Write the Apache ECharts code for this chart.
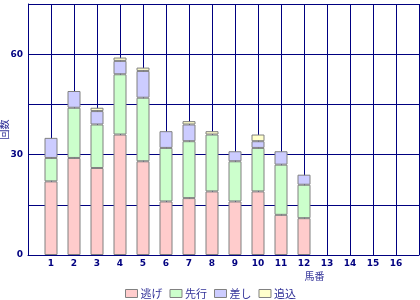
<!DOCTYPE html>
<html><head><meta charset="utf-8">
<script src="https://cdn.jsdelivr.net/npm/echarts@6/dist/echarts.min.js"></script>
<style>html,body{margin:0;padding:0;background:#fff}#c{width:420px;height:300px}</style>
</head><body><div id="c"></div>
<script>
const horses = ['1','2','3','4','5','6','7','8','9','10','11','12','13','14','15','16'];
const nige   = [22,29,26,36,28,16,17,19,16,19,12,11,0,0,0,0];
const senko  = [7,15,13,18,19,16,17,17,12,13,15,10,0,0,0,0];
const sashi  = [6,5,4,4,8,5,5,0,3,2,4,3,0,0,0,0];
const oikomi = [0,0,1,1,1,0,1,1,0,2,0,0,0,0,0,0];
const seriesNames = ['逃げ','先行','差し','追込'];
const yTickLabels = [0,30,60];

const cats = [''].concat(horses, ['']);
const pad = a => ['-'].concat(a.map(v => v === 0 ? '-' : v), ['-']);
const colors = ['#ffcccc','#ccffcc','#ccccff','#ffffcc'];
const navy = '#000080';
const chart = echarts.init(document.getElementById('c'), null, {renderer:'canvas'});
chart.setOption({
  animation:false,
  textStyle:{fontFamily:'DejaVu Sans'},
  grid:{left:28,right:1,top:4,bottom:45,containLabel:false,outerBoundsMode:'none'},
  legend:{
    left:125, top:288, padding:0, itemWidth:12, itemHeight:8, itemGap:7,
    textStyle:{color:'#333399',fontSize:11,fontFamily:'Noto Sans CJK JP',padding:[0,0,0,-2]},
    data:seriesNames.map((n,i)=>({name:n,icon:'rect',itemStyle:{color:colors[i],borderColor:'#808080',borderWidth:1}}))
  },
  xAxis:{
    type:'category', data:cats, boundaryGap:false,
    name:'馬番', nameLocation:'middle', nameGap:16, nameMoveOverlap:false,
    nameTextStyle:{color:'#333399',fontSize:10,fontFamily:'Noto Sans CJK JP',padding:[0,0,0,182]},
    axisLine:{lineStyle:{color:navy,width:1}},
    axisTick:{show:false},
    axisLabel:{interval:0,color:navy,fontSize:9,fontWeight:'bold',margin:4},
    splitLine:{show:true,interval:0,lineStyle:{color:navy,width:1}}
  },
  yAxis:{
    type:'value', min:0, max:75, interval:15,
    name:'回数', nameLocation:'middle', nameRotate:90, nameGap:19, nameMoveOverlap:false,
    nameTextStyle:{color:'#333399',fontSize:10,fontFamily:'Noto Sans CJK JP'},
    axisLine:{show:true,lineStyle:{color:navy,width:1}},
    axisTick:{show:false},
    axisLabel:{color:navy,fontSize:9,fontWeight:'bold',margin:5,
      formatter:v=>yTickLabels.indexOf(v)>=0?String(v):''},
    splitLine:{show:true,lineStyle:{color:navy,width:1}}
  },
  series:[nige,senko,sashi,oikomi].map((d,i)=>({
    name:seriesNames[i], type:'bar', stack:'s', data:pad(d), barWidth:13,
    itemStyle:{color:colors[i],borderColor:'#808080',borderWidth:1}
  }))
});
</script></body></html>
